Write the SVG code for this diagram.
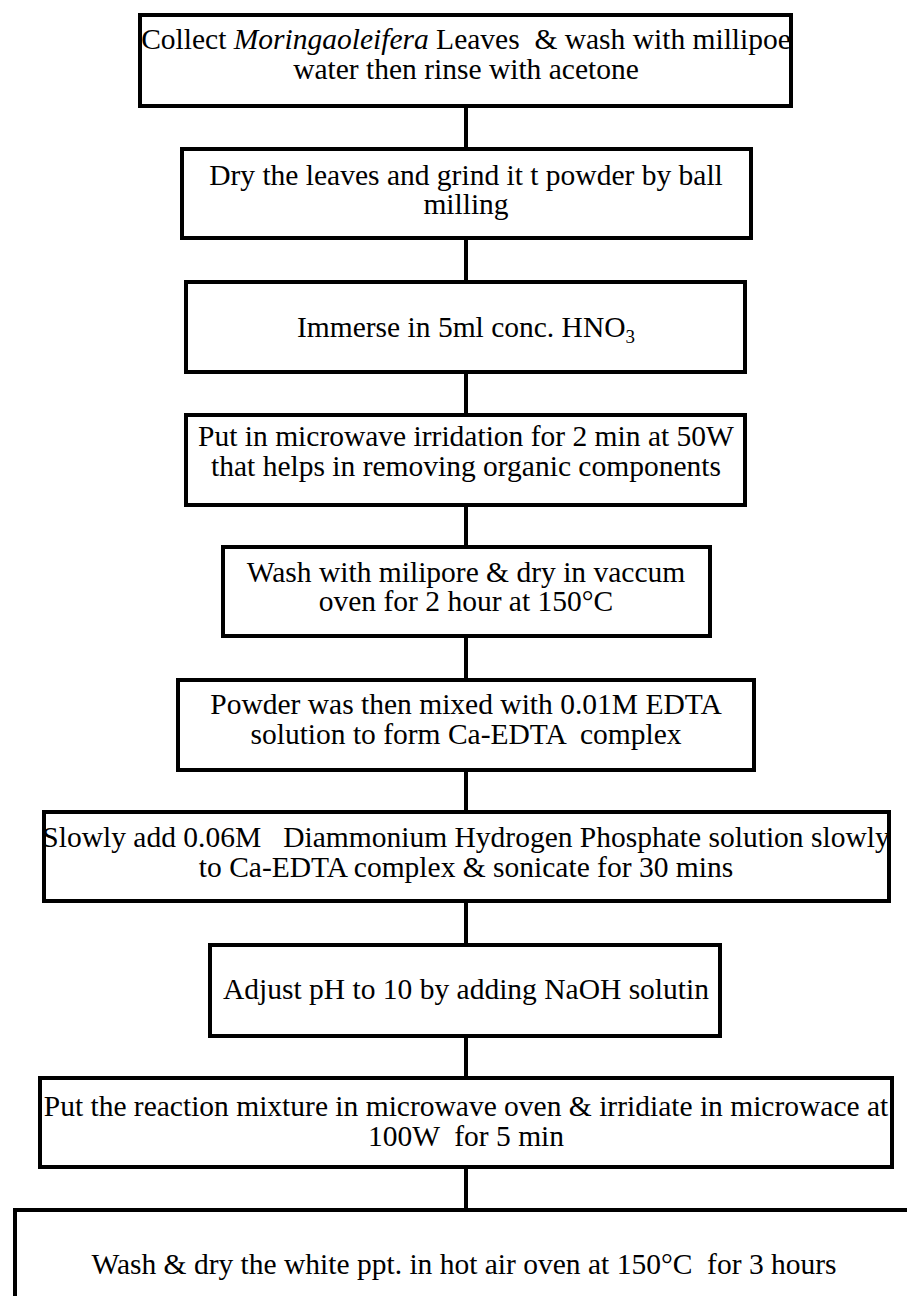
<svg xmlns="http://www.w3.org/2000/svg" width="907" height="1296" viewBox="0 0 907 1296">
<style>
.box{fill:#fff;stroke:#000;stroke-width:4}
.conn{stroke:#000;stroke-width:4;fill:none}
text{font-family:"Liberation Serif","Times New Roman",serif;font-size:29.5px;fill:#000;text-anchor:middle}
</style>
<rect width="907" height="1296" fill="#fff"/>
<g id="connectors">
<line class="conn" x1="466" y1="108" x2="466" y2="147"/>
<line class="conn" x1="466" y1="240" x2="466" y2="280"/>
<line class="conn" x1="466" y1="374" x2="466" y2="413"/>
<line class="conn" x1="466" y1="507" x2="466" y2="545"/>
<line class="conn" x1="466" y1="638" x2="466" y2="678"/>
<line class="conn" x1="466" y1="772" x2="466" y2="810"/>
<line class="conn" x1="466" y1="903" x2="466" y2="943"/>
<line class="conn" x1="466" y1="1038" x2="466" y2="1076"/>
<line class="conn" x1="466" y1="1169" x2="466" y2="1208"/>
</g>
<g id="n1">
<rect class="box" x="140" y="15" width="651" height="91"/>
<text x="466" y="49" xml:space="preserve">Collect <tspan font-style="italic">Moringaoleifera</tspan> Leaves  &amp; wash with millipoe</text>
<text x="466" y="79">water then rinse with acetone</text>
</g>
<g id="n2">
<rect class="box" x="182" y="149" width="569" height="89"/>
<text x="466" y="185">Dry the leaves and grind it t powder by ball</text>
<text x="466" y="214">milling</text>
</g>
<g id="n3">
<rect class="box" x="186" y="282" width="559" height="90"/>
<text x="466" y="337">Immerse in 5ml conc. HNO<tspan font-size="19" dy="6">3</tspan></text>
</g>
<g id="n4">
<rect class="box" x="186" y="415" width="559" height="90"/>
<text x="466" y="446">Put in microwave irridation for 2 min at 50W</text>
<text x="466" y="476">that helps in removing organic components</text>
</g>
<g id="n5">
<rect class="box" x="223" y="547" width="487" height="89"/>
<text x="466" y="582">Wash with milipore &amp; dry in vaccum</text>
<text x="466" y="611">oven for 2 hour at 150°C</text>
</g>
<g id="n6">
<rect class="box" x="178" y="680" width="576" height="90"/>
<text x="466" y="714">Powder was then mixed with 0.01M EDTA</text>
<text x="466" y="744" xml:space="preserve">solution to form Ca-EDTA  complex</text>
</g>
<g id="n7">
<rect class="box" x="44" y="812" width="845" height="89"/>
<text x="466" y="847" xml:space="preserve">Slowly add 0.06M   Diammonium Hydrogen Phosphate solution slowly</text>
<text x="466" y="877">to Ca-EDTA complex &amp; sonicate for 30 mins</text>
</g>
<g id="n8">
<rect class="box" x="210" y="945" width="510" height="91"/>
<text x="466" y="999">Adjust pH to 10 by adding NaOH solutin</text>
</g>
<g id="n9">
<rect class="box" x="40" y="1078" width="852" height="89"/>
<text x="466" y="1116">Put the reaction mixture in microwave oven &amp; irridiate in microwace at</text>
<text x="466" y="1146" xml:space="preserve">100W  for 5 min</text>
</g>
<g id="n10">
<rect class="box" x="15" y="1210" width="1000" height="200"/>
<text x="464" y="1274" xml:space="preserve">Wash &amp; dry the white ppt. in hot air oven at 150°C  for 3 hours</text>
</g>
</svg>
